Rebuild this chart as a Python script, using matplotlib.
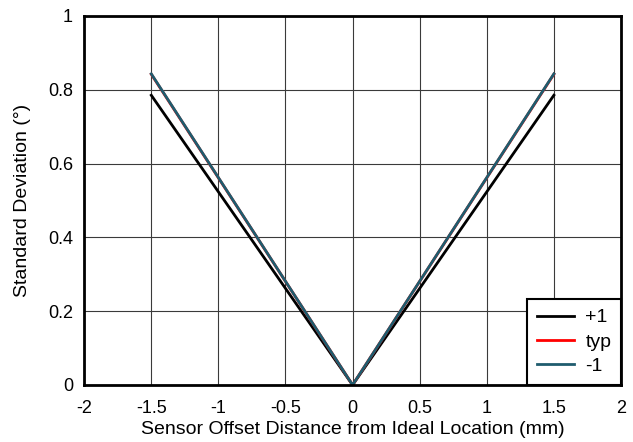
import numpy as np
import matplotlib.pyplot as plt

plt.rcParams['font.family'] = ['Liberation Sans', 'DejaVu Sans']
plt.rcParams['font.size'] = 13

# standard deviation vs. sensor offset, three air-gap conditions
offset = [-1.5, 0, 1.5]
std_p1 = [0.785, 0.0, 0.785]
std_typ = [0.842, 0.0, 0.842]
std_m1 = [0.843, 0.0, 0.843]

fig, ax = plt.subplots(figsize=(6.33, 4.42), dpi=100)
fig.subplots_adjust(left=0.133, right=0.981, top=0.964, bottom=0.129)

ax.plot(offset, std_p1, color='black', lw=2, label='+1')
ax.plot(offset, std_typ, color='#ff0000', lw=2, label='typ')
ax.plot(offset, std_m1, color='#1f5c6e', lw=2, label='-1')

ax.set_xlim(-2, 2)
ax.set_ylim(0, 1)
ax.set_xticks(np.arange(-2, 2.01, 0.5))
ax.set_xticklabels(['-2', '-1.5', '-1', '-0.5', '0', '0.5', '1', '1.5', '2'])
ax.set_yticks(np.arange(0, 1.01, 0.2))
ax.set_yticklabels(['0', '0.2', '0.4', '0.6', '0.8', '1'])
ax.grid(True, color='#3a3a3a', lw=0.8)
ax.tick_params(axis='x', length=0, pad=11)
ax.tick_params(axis='y', length=0, pad=8)
for s in ax.spines.values():
    s.set_linewidth(2)

ax.set_xlabel('Sensor Offset Distance from Ideal Location (mm)', fontsize=14, labelpad=3)
ax.set_ylabel('Standard Deviation (°)', fontsize=14, labelpad=12)

leg = ax.legend(loc='lower right', borderaxespad=0, fancybox=False, fontsize=14,
                framealpha=1, handlelength=1.9, handletextpad=0.6,
                labelspacing=0.35, borderpad=0.5)
leg.get_frame().set_edgecolor('black')
leg.get_frame().set_linewidth(1.5)

plt.savefig('out.png', dpi=100)
